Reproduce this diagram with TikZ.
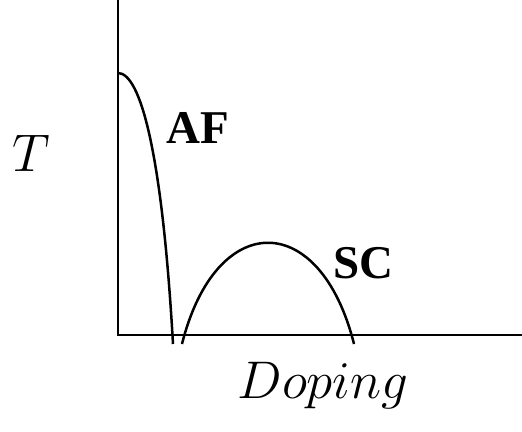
\RequirePackage{fix-cm}
\documentclass[tikz,border=0pt]{standalone}
\usepackage{fontspec}
\newfontfamily\timesbf{Liberation Serif}
\tikzset{
  line/.style={line width=2.5pt, line cap=butt},
  phase/.style={font=\timesbf\bfseries\fontsize{47}{50}\selectfont, inner sep=0pt, anchor=base west},
  axlabel/.style={font=\fontsize{53}{56}\selectfont, inner sep=0pt, anchor=base}
}
\begin{document}
\begin{tikzpicture}[x=1pt,y=-1pt]
\useasboundingbox (0,0) rectangle (522,431);
\coordinate (ytop) at (118,0);
\coordinate (origin) at (118,335);
\coordinate (xend) at (522,335);
\draw[line] (ytop) -- (origin) -- (xend);
% AF curve
\draw[line] (118,73) .. controls (140,73) and (162,150) .. (173,344);
% SC dome
\draw[line] (182,344) .. controls (216,209) and (320,209) .. (354,344);
\node[phase] (af) at (166,143) {AF};
\node[phase] (sc) at (333,278) {SC};
\node[axlabel] (t) at (31,171) {$T$};
\node[axlabel] (dop) at (323,398) {$Doping$};
\end{tikzpicture}
\end{document}
